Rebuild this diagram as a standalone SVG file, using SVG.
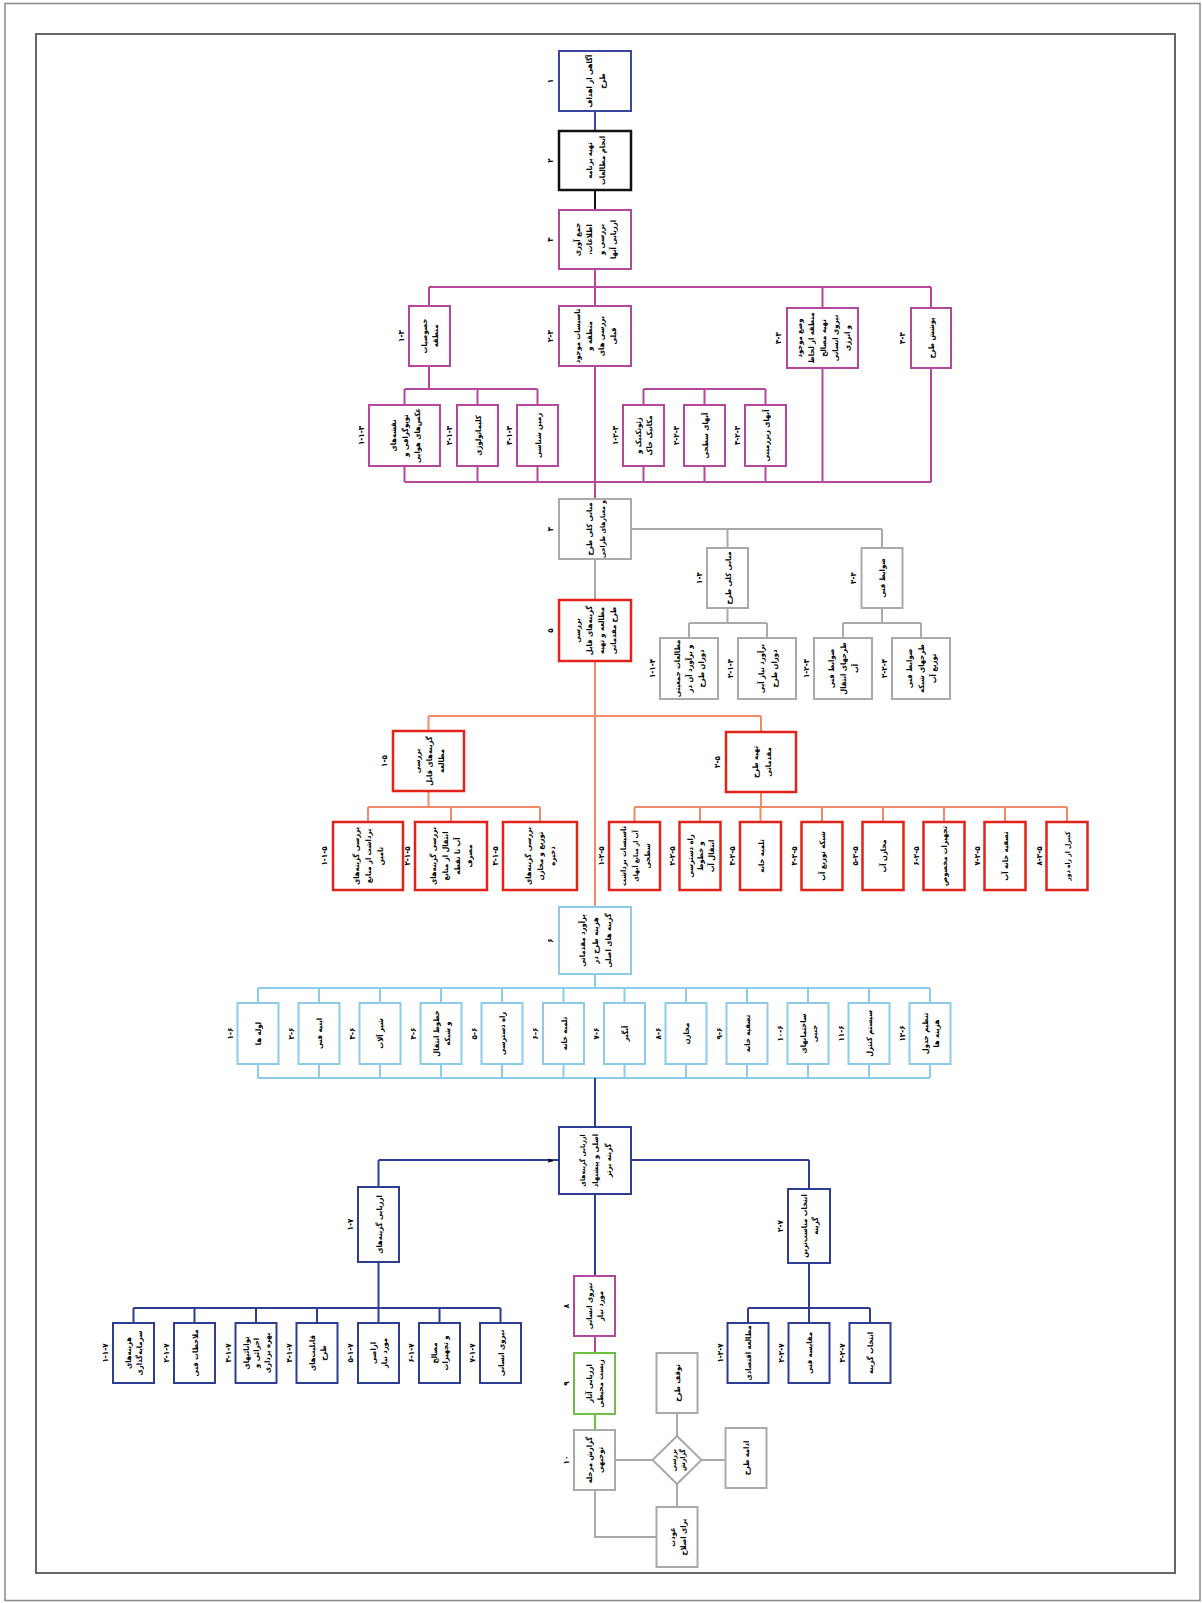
<svg xmlns="http://www.w3.org/2000/svg" width="1202" height="1603" viewBox="0 0 1202 1603">
<style>
.t{font-family:"DejaVu Sans Condensed","DejaVu Sans",sans-serif;font-size:7.6px;font-weight:bold;text-anchor:middle;direction:rtl;fill:#000}
.s{font-size:6.8px}
.n{font-family:"DejaVu Sans Condensed","DejaVu Sans",sans-serif;font-size:8px;font-weight:bold;text-anchor:middle;direction:ltr;fill:#000}
.b1{fill:#fff;stroke:#3b46a0;stroke-width:2}
.bk{fill:#fff;stroke:#111;stroke-width:2.5}
.pk{fill:#fff;stroke:#b5489c;stroke-width:2}
.gy{fill:#fff;stroke:#aaaaaa;stroke-width:2}
.rd{fill:#fff;stroke:#e2231a;stroke-width:2.5}
.lb{fill:#fff;stroke:#8ccbea;stroke-width:2}
.db{fill:#fff;stroke:#2e3d94;stroke-width:2}
.gn{fill:#fff;stroke:#6fbe44;stroke-width:2}
.c{fill:none;stroke-width:2}
</style>
<rect x="5" y="3.5" width="1195" height="1597" fill="none" stroke="#888" stroke-width="1.5"/>
<rect x="36" y="34" width="1139" height="1539" fill="none" stroke="#666" stroke-width="2"/>
<g id="connectors">
<path class="c" stroke="#3b46a0" d="M595 111V131"/>
<path class="c" stroke="#111" d="M595 190V210"/>
<path class="c" stroke="#b5489c" d="M595 269V306M429 287H931M429 287V306M822.5 287V308M931 287V308M429 366V389M404.5 389H537.5M404.5 389V405M477.5 389V405M537.5 389V405M643.5 389H765.5M643.5 389V405M704.5 389V405M765.5 389V405M404.5 466V482M477.5 466V482M537.5 466V482M643.5 466V482M704.5 466V482M765.5 466V482M822.5 368V482M931 368V482M595 366V499M404.5 482H931M595 1336V1353"/>
<path class="c" stroke="#aaaaaa" d="M595 559V600M630 529H882M727.5 529V548M882 529V548M727.5 608V623M689 623H767M689 623V638M767 623V638M882 608V623M843 623H921M843 623V638M921 623V638M615 1460H652.5M677 1413V1436M701.5 1460H725.5M677 1484V1507M595 1490V1537H656.5"/>
<path class="c" stroke="#f28a6a" stroke-width="1.5" d="M595 661V907M428.5 716H761M428.5 716V731M761 716V732M428.5 791V807M368 807H540M368 807V822M451 807V822M540 807V822M761 792V807M634.5 807H1067M634.5 807V822M700 807V822M760.5 807V822M822 807V822M883 807V822M944 807V822M1005 807V822M1067 807V822"/>
<path class="c" stroke="#8ccbea" d="M595 974V988M258 988H930M258 1078H930M258 988V1003M319 988V1003M380 988V1003M441 988V1003M502 988V1003M563.5 988V1003M624.5 988V1003M686 988V1003M747 988V1003M808 988V1003M869 988V1003M930 988V1003M258 1064V1078M319 1064V1078M380 1064V1078M441 1064V1078M502 1064V1078M563.5 1064V1078M624.5 1064V1078M686 1064V1078M747 1064V1078M808 1064V1078M869 1064V1078M930 1064V1078"/>
<path class="c" stroke="#2e3d94" d="M595 1078V1127M378.5 1160H809M378.5 1160V1187M809 1160V1189M378.5 1262V1308M133.5 1308H500.5M133.5 1308V1323M194.5 1308V1323M256 1308V1323M317 1308V1323M378.5 1308V1323M439.5 1308V1323M500.5 1308V1323M809 1263V1308M748 1308H870M748 1308V1323M809 1308V1323M870 1308V1323M595 1194V1276"/>
<path class="c" stroke="#6fbe44" d="M595 1414V1430"/>
</g>
<g id="n1"><rect class="b1" x="559" y="51" width="72" height="60"/><text class="t" transform="translate(595,81) rotate(-90)"><tspan x="0" y="-3.5">آگاهی از اهداف</tspan><tspan x="0" y="9.5">طرح</tspan></text><text class="n" transform="translate(550,81) rotate(-90)" y="3">۱</text></g>
<g id="n2"><rect class="bk" x="559" y="131" width="72" height="59"/><text class="t" transform="translate(595,160.5) rotate(-90)"><tspan x="0" y="-3.5">تهیه برنامه</tspan><tspan x="0" y="9.5">انجام مطالعات</tspan></text><text class="n" transform="translate(550,160.5) rotate(-90)" y="3">۲</text></g>
<g id="n3"><rect class="pk" x="559" y="210" width="72" height="59"/><text class="t" transform="translate(595,239.5) rotate(-90)"><tspan x="0" y="-15">جمع آوری</tspan><tspan x="0" y="-3">اطلاعات،</tspan><tspan x="0" y="9">بررسی و</tspan><tspan x="0" y="21">ارزیابی آنها</tspan></text><text class="n" transform="translate(550,239.5) rotate(-90)" y="3">۳</text></g>
<g id="n3-1"><rect class="pk" x="409" y="306" width="41" height="60"/><text class="t" transform="translate(429.5,336) rotate(-90)"><tspan x="0" y="-2.5">خصوصیات</tspan><tspan x="0" y="8.5">منطقه</tspan></text><text class="n" transform="translate(401,336) rotate(-90)" y="3">۱-۳</text></g>
<g id="n3-2"><rect class="pk" x="559" y="306" width="72" height="60"/><text class="t" transform="translate(595,336) rotate(-90)"><tspan x="0" y="-15">تاسیسات موجود</tspan><tspan x="0" y="-3">منطقه و</tspan><tspan x="0" y="9">بررسی های</tspan><tspan x="0" y="21">قبلی</tspan></text><text class="n" transform="translate(550,336) rotate(-90)" y="3">۲-۳</text></g>
<g id="n3-3"><rect class="pk" x="787" y="308" width="71" height="60"/><text class="t" transform="translate(822.5,338) rotate(-90)"><tspan x="0" y="-21">وضع موجود</tspan><tspan x="0" y="-9">منطقه از لحاظ</tspan><tspan x="0" y="3">تهیه مصالح</tspan><tspan x="0" y="15">نیروی انسانی</tspan><tspan x="0" y="27">و انرژی</tspan></text><text class="n" transform="translate(778,338) rotate(-90)" y="3">۳-۳</text></g>
<g id="n3-4"><rect class="pk" x="911" y="308" width="40" height="60"/><text class="t" transform="translate(931,338) rotate(-90)"><tspan x="0" y="3">پوشش طرح</tspan></text><text class="n" transform="translate(902,338) rotate(-90)" y="3">۴-۳</text></g>
<g id="n3-1-1"><rect class="pk" x="369" y="405" width="71" height="61"/><text class="t" transform="translate(404.5,435.5) rotate(-90)"><tspan x="0" y="-9">نقشه‌های</tspan><tspan x="0" y="3">توپوگرافی و</tspan><tspan x="0" y="15">عکس‌های هوایی</tspan></text><text class="n" transform="translate(361,435.5) rotate(-90)" y="3">۱-۱-۳</text></g>
<g id="n3-1-2"><rect class="pk" x="457" y="405" width="41" height="61"/><text class="t" transform="translate(477.5,435.5) rotate(-90)"><tspan x="0" y="3">کلیماتولوژی</tspan></text><text class="n" transform="translate(449,435.5) rotate(-90)" y="3">۲-۱-۳</text></g>
<g id="n3-1-3"><rect class="pk" x="517" y="405" width="41" height="61"/><text class="t" transform="translate(537.5,435.5) rotate(-90)"><tspan x="0" y="3">زمین شناسی</tspan></text><text class="n" transform="translate(509,435.5) rotate(-90)" y="3">۳-۱-۳</text></g>
<g id="n3-2-1"><rect class="pk" x="623" y="405" width="41" height="61"/><text class="t" transform="translate(643.5,435.5) rotate(-90)"><tspan x="0" y="-2.5">ژئوتکنیک و</tspan><tspan x="0" y="8.5">مکانیک خاک</tspan></text><text class="n" transform="translate(615,435.5) rotate(-90)" y="3">۱-۲-۳</text></g>
<g id="n3-2-2"><rect class="pk" x="684" y="405" width="41" height="61"/><text class="t" transform="translate(704.5,435.5) rotate(-90)"><tspan x="0" y="3">آبهای سطحی</tspan></text><text class="n" transform="translate(676,435.5) rotate(-90)" y="3">۲-۲-۳</text></g>
<g id="n3-2-3"><rect class="pk" x="745" y="405" width="41" height="61"/><text class="t" transform="translate(765.5,435.5) rotate(-90)"><tspan x="0" y="3">آبهای زیرزمینی</tspan></text><text class="n" transform="translate(737,435.5) rotate(-90)" y="3">۳-۲-۳</text></g>
<g id="n4"><rect class="gy" x="559" y="499" width="72" height="60"/><text class="t" transform="translate(595,529) rotate(-90)"><tspan x="0" y="-3.5">مبانی کلی طرح</tspan><tspan class="s" x="0" y="9.5">و معیارهای طراحی</tspan></text><text class="n" transform="translate(550,529) rotate(-90)" y="3">۴</text></g>
<g id="n4-1"><rect class="gy" x="707" y="548" width="41" height="60"/><text class="t" transform="translate(727.5,578) rotate(-90)"><tspan x="0" y="3">مبانی کلی طرح</tspan></text><text class="n" transform="translate(699,578) rotate(-90)" y="3">۱-۴</text></g>
<g id="n4-2"><rect class="gy" x="861.5" y="548" width="41" height="60"/><text class="t" transform="translate(882,578) rotate(-90)"><tspan x="0" y="3">ضوابط فنی</tspan></text><text class="n" transform="translate(853,578) rotate(-90)" y="3">۲-۴</text></g>
<g id="n4-1-1"><rect class="gy" x="660" y="638" width="58" height="61"/><text class="t" transform="translate(689,668.5) rotate(-90)"><tspan x="0" y="-9">مطالعات جمعیتی</tspan><tspan x="0" y="3">و برآورد آن در</tspan><tspan x="0" y="15">دوران طرح</tspan></text><text class="n" transform="translate(652,668.5) rotate(-90)" y="3">۱-۱-۴</text></g>
<g id="n4-1-2"><rect class="gy" x="738" y="638" width="58" height="61"/><text class="t" transform="translate(767,668.5) rotate(-90)"><tspan x="0" y="-3.5">برآورد نیاز آبی</tspan><tspan x="0" y="9.5">دوران طرح</tspan></text><text class="n" transform="translate(730,668.5) rotate(-90)" y="3">۲-۱-۴</text></g>
<g id="n4-2-1"><rect class="gy" x="814" y="638" width="58" height="61"/><text class="t" transform="translate(843,668.5) rotate(-90)"><tspan x="0" y="-9">ضوابط فنی</tspan><tspan x="0" y="3">طرحهای انتقال</tspan><tspan x="0" y="15">آب</tspan></text><text class="n" transform="translate(806,668.5) rotate(-90)" y="3">۱-۲-۴</text></g>
<g id="n4-2-2"><rect class="gy" x="892" y="638" width="58" height="61"/><text class="t" transform="translate(921,668.5) rotate(-90)"><tspan x="0" y="-9">ضوابط فنی</tspan><tspan x="0" y="3">طرحهای شبکه</tspan><tspan x="0" y="15">توزیع آب</tspan></text><text class="n" transform="translate(884,668.5) rotate(-90)" y="3">۲-۲-۴</text></g>
<g id="n5"><rect class="rd" x="559" y="600" width="72" height="61"/><text class="t" transform="translate(595,630.5) rotate(-90)"><tspan x="0" y="-15">بررسی</tspan><tspan x="0" y="-3">گزینه‌های قابل</tspan><tspan x="0" y="9">مطالعه و تهیه</tspan><tspan x="0" y="21">طرح مقدماتی</tspan></text><text class="n" transform="translate(550,630.5) rotate(-90)" y="3">۵</text></g>
<g id="n5-1"><rect class="rd" x="393" y="731" width="71" height="60"/><text class="t" transform="translate(428.5,761) rotate(-90)"><tspan x="0" y="-9">بررسی</tspan><tspan x="0" y="3">گزینه‌های قابل</tspan><tspan x="0" y="15">مطالعه</tspan></text><text class="n" transform="translate(384,761) rotate(-90)" y="3">۱-۵</text></g>
<g id="n5-2"><rect class="rd" x="726" y="732" width="70" height="60"/><text class="t" transform="translate(761,762) rotate(-90)"><tspan x="0" y="-3.5">تهیه طرح</tspan><tspan x="0" y="9.5">مقدماتی</tspan></text><text class="n" transform="translate(717,762) rotate(-90)" y="3">۲-۵</text></g>
<g id="n5-1-1"><rect class="rd" x="333" y="822" width="70" height="68"/><text class="t" transform="translate(368,856) rotate(-90)"><tspan x="0" y="-9">بررسی گزینه‌های</tspan><tspan x="0" y="3">برداشت از منابع</tspan><tspan x="0" y="15">تامین</tspan></text><text class="n" transform="translate(324,856) rotate(-90)" y="3">۱-۱-۵</text></g>
<g id="n5-1-2"><rect class="rd" x="415" y="822" width="72" height="68"/><text class="t" transform="translate(451,856) rotate(-90)"><tspan x="0" y="-15">بررسی گزینه‌های</tspan><tspan x="0" y="-3">انتقال از منابع</tspan><tspan x="0" y="9">آب تا نقطه</tspan><tspan x="0" y="21">مصرف</tspan></text><text class="n" transform="translate(407,856) rotate(-90)" y="3">۲-۱-۵</text></g>
<g id="n5-1-3"><rect class="rd" x="503" y="822" width="74" height="68"/><text class="t" transform="translate(540,856) rotate(-90)"><tspan x="0" y="-9">بررسی گزینه‌های</tspan><tspan x="0" y="3">توزیع و مخازن</tspan><tspan x="0" y="15">ذخیره</tspan></text><text class="n" transform="translate(495,856) rotate(-90)" y="3">۳-۱-۵</text></g>
<g id="n5-2-1"><rect class="rd" x="609" y="822" width="51" height="68"/><text class="t" transform="translate(634.5,856) rotate(-90)"><tspan x="0" y="-9">تاسیسات برداشت</tspan><tspan class="s" x="0" y="3">آب از منابع آبهای</tspan><tspan x="0" y="15">سطحی</tspan></text><text class="n" transform="translate(601,856) rotate(-90)" y="3">۱-۲-۵</text></g>
<g id="n5-2-2"><rect class="rd" x="679.5" y="822" width="41" height="68"/><text class="t" transform="translate(700,856) rotate(-90)"><tspan x="0" y="-7.5">راه دسترسی</tspan><tspan x="0" y="3">و خطوط</tspan><tspan x="0" y="13.5">انتقال آب</tspan></text><text class="n" transform="translate(671.5,856) rotate(-90)" y="3">۲-۲-۵</text></g>
<g id="n5-2-3"><rect class="rd" x="740" y="822" width="41" height="68"/><text class="t" transform="translate(760.5,856) rotate(-90)"><tspan x="0" y="3">تلمبه خانه</tspan></text><text class="n" transform="translate(732,856) rotate(-90)" y="3">۳-۲-۵</text></g>
<g id="n5-2-4"><rect class="rd" x="801.5" y="822" width="41" height="68"/><text class="t" transform="translate(822,856) rotate(-90)"><tspan x="0" y="3">شبکه توزیع آب</tspan></text><text class="n" transform="translate(793.5,856) rotate(-90)" y="3">۴-۲-۵</text></g>
<g id="n5-2-5"><rect class="rd" x="862.5" y="822" width="41" height="68"/><text class="t" transform="translate(883,856) rotate(-90)"><tspan x="0" y="3">مخازن آب</tspan></text><text class="n" transform="translate(854.5,856) rotate(-90)" y="3">۵-۲-۵</text></g>
<g id="n5-2-6"><rect class="rd" x="923.5" y="822" width="41" height="68"/><text class="t" transform="translate(944,856) rotate(-90)"><tspan x="0" y="3">تجهیزات مخصوص</tspan></text><text class="n" transform="translate(915.5,856) rotate(-90)" y="3">۶-۲-۵</text></g>
<g id="n5-2-7"><rect class="rd" x="984.5" y="822" width="41" height="68"/><text class="t" transform="translate(1005,856) rotate(-90)"><tspan x="0" y="3">تصفیه خانه آب</tspan></text><text class="n" transform="translate(976.5,856) rotate(-90)" y="3">۷-۲-۵</text></g>
<g id="n5-2-8"><rect class="rd" x="1046.5" y="822" width="41" height="68"/><text class="t" transform="translate(1067,856) rotate(-90)"><tspan class="s" x="0" y="3">کنترل از راه دور</tspan></text><text class="n" transform="translate(1038.5,856) rotate(-90)" y="3">۸-۲-۵</text></g>
<g id="n6"><rect class="lb" x="559" y="907" width="72" height="67"/><text class="t" transform="translate(595,940.5) rotate(-90)"><tspan x="0" y="-10">برآورد مقدماتی</tspan><tspan x="0" y="3">هزینه طرح در</tspan><tspan x="0" y="16">گزینه های اصلی</tspan></text><text class="n" transform="translate(550,940.5) rotate(-90)" y="3">۶</text></g>
<g id="n6-1"><rect class="lb" x="237.5" y="1003" width="41" height="61"/><text class="t" transform="translate(258,1033.5) rotate(-90)"><tspan x="0" y="3">لوله ها</tspan></text><text class="n" transform="translate(229.5,1033.5) rotate(-90)" y="3">۱-۶</text></g>
<g id="n6-2"><rect class="lb" x="298.5" y="1003" width="41" height="61"/><text class="t" transform="translate(319,1033.5) rotate(-90)"><tspan x="0" y="3">ابنیه فنی</tspan></text><text class="n" transform="translate(290.5,1033.5) rotate(-90)" y="3">۲-۶</text></g>
<g id="n6-3"><rect class="lb" x="359.5" y="1003" width="41" height="61"/><text class="t" transform="translate(380,1033.5) rotate(-90)"><tspan x="0" y="3">شیر آلات</tspan></text><text class="n" transform="translate(351.5,1033.5) rotate(-90)" y="3">۳-۶</text></g>
<g id="n6-4"><rect class="lb" x="420.5" y="1003" width="41" height="61"/><text class="t" transform="translate(441,1033.5) rotate(-90)"><tspan x="0" y="-2.5">خطوط انتقال</tspan><tspan x="0" y="8.5">و شبکه</tspan></text><text class="n" transform="translate(412.5,1033.5) rotate(-90)" y="3">۴-۶</text></g>
<g id="n6-5"><rect class="lb" x="481.5" y="1003" width="41" height="61"/><text class="t" transform="translate(502,1033.5) rotate(-90)"><tspan x="0" y="3">راه دسترسی</tspan></text><text class="n" transform="translate(473.5,1033.5) rotate(-90)" y="3">۵-۶</text></g>
<g id="n6-6"><rect class="lb" x="543" y="1003" width="41" height="61"/><text class="t" transform="translate(563.5,1033.5) rotate(-90)"><tspan x="0" y="3">تلمبه خانه</tspan></text><text class="n" transform="translate(535,1033.5) rotate(-90)" y="3">۶-۶</text></g>
<g id="n6-7"><rect class="lb" x="604" y="1003" width="41" height="61"/><text class="t" transform="translate(624.5,1033.5) rotate(-90)"><tspan x="0" y="3">آبگیر</tspan></text><text class="n" transform="translate(596,1033.5) rotate(-90)" y="3">۷-۶</text></g>
<g id="n6-8"><rect class="lb" x="665.5" y="1003" width="41" height="61"/><text class="t" transform="translate(686,1033.5) rotate(-90)"><tspan x="0" y="3">مخازن</tspan></text><text class="n" transform="translate(657.5,1033.5) rotate(-90)" y="3">۸-۶</text></g>
<g id="n6-9"><rect class="lb" x="726.5" y="1003" width="41" height="61"/><text class="t" transform="translate(747,1033.5) rotate(-90)"><tspan x="0" y="3">تصفیه خانه</tspan></text><text class="n" transform="translate(718.5,1033.5) rotate(-90)" y="3">۹-۶</text></g>
<g id="n6-10"><rect class="lb" x="787.5" y="1003" width="41" height="61"/><text class="t" transform="translate(808,1033.5) rotate(-90)"><tspan x="0" y="-2.5">ساختمانهای</tspan><tspan x="0" y="8.5">جنبی</tspan></text><text class="n" transform="translate(779.5,1033.5) rotate(-90)" y="3">۱۰-۶</text></g>
<g id="n6-11"><rect class="lb" x="848.5" y="1003" width="41" height="61"/><text class="t" transform="translate(869,1033.5) rotate(-90)"><tspan x="0" y="3">سیستم کنترل</tspan></text><text class="n" transform="translate(840.5,1033.5) rotate(-90)" y="3">۱۱-۶</text></g>
<g id="n6-12"><rect class="lb" x="909.5" y="1003" width="41" height="61"/><text class="t" transform="translate(930,1033.5) rotate(-90)"><tspan x="0" y="-2.5">تنظیم جدول</tspan><tspan x="0" y="8.5">هزینه ها</tspan></text><text class="n" transform="translate(901.5,1033.5) rotate(-90)" y="3">۱۲-۶</text></g>
<g id="n7"><rect class="db" x="559" y="1127" width="72" height="67"/><text class="t" transform="translate(595,1160.5) rotate(-90)"><tspan class="s" x="0" y="-10">ارزیابی گزینه‌های</tspan><tspan x="0" y="3">اصلی و پیشنهاد</tspan><tspan x="0" y="16">گزینه برتر</tspan></text><text class="n" transform="translate(550,1160.5) rotate(-90)" y="3">۷</text></g>
<g id="n7-1"><rect class="db" x="358" y="1187" width="41" height="75"/><text class="t" transform="translate(378.5,1224.5) rotate(-90)"><tspan x="0" y="3">ارزیابی گزینه‌های</tspan></text><text class="n" transform="translate(350,1224.5) rotate(-90)" y="3">۱-۷</text></g>
<g id="n7-2"><rect class="db" x="788" y="1189" width="42" height="74"/><text class="t" transform="translate(809,1226) rotate(-90)"><tspan x="0" y="-2.5">انتخاب مناسب‌ترین</tspan><tspan x="0" y="8.5">گزینه</tspan></text><text class="n" transform="translate(780,1226) rotate(-90)" y="3">۲-۷</text></g>
<g id="n7-1-1"><rect class="db" x="113" y="1323" width="41" height="60"/><text class="t" transform="translate(133.5,1353) rotate(-90)"><tspan x="0" y="-2.5">هزینه‌های</tspan><tspan x="0" y="8.5">سرمایه‌گذاری</tspan></text><text class="n" transform="translate(105,1353) rotate(-90)" y="3">۱-۱-۷</text></g>
<g id="n7-1-2"><rect class="db" x="174" y="1323" width="41" height="60"/><text class="t" transform="translate(194.5,1353) rotate(-90)"><tspan x="0" y="3">ملاحظات فنی</tspan></text><text class="n" transform="translate(166,1353) rotate(-90)" y="3">۲-۱-۷</text></g>
<g id="n7-1-3"><rect class="db" x="235.5" y="1323" width="41" height="60"/><text class="t" transform="translate(256,1353) rotate(-90)"><tspan x="0" y="-7.5">توانائیهای</tspan><tspan x="0" y="3">اجرائی و</tspan><tspan x="0" y="13.5">بهره برداری</tspan></text><text class="n" transform="translate(227.5,1353) rotate(-90)" y="3">۳-۱-۷</text></g>
<g id="n7-1-4"><rect class="db" x="296.5" y="1323" width="41" height="60"/><text class="t" transform="translate(317,1353) rotate(-90)"><tspan x="0" y="-2.5">قابلیت‌های</tspan><tspan x="0" y="8.5">طرح</tspan></text><text class="n" transform="translate(288.5,1353) rotate(-90)" y="3">۴-۱-۷</text></g>
<g id="n7-1-5"><rect class="db" x="358" y="1323" width="41" height="60"/><text class="t" transform="translate(378.5,1353) rotate(-90)"><tspan x="0" y="-2.5">اراضی</tspan><tspan x="0" y="8.5">مورد نیاز</tspan></text><text class="n" transform="translate(350,1353) rotate(-90)" y="3">۵-۱-۷</text></g>
<g id="n7-1-6"><rect class="db" x="419" y="1323" width="41" height="60"/><text class="t" transform="translate(439.5,1353) rotate(-90)"><tspan x="0" y="-2.5">مصالح</tspan><tspan x="0" y="8.5">و تجهیزات</tspan></text><text class="n" transform="translate(411,1353) rotate(-90)" y="3">۶-۱-۷</text></g>
<g id="n7-1-7"><rect class="db" x="480" y="1323" width="41" height="60"/><text class="t" transform="translate(500.5,1353) rotate(-90)"><tspan x="0" y="3">نیروی انسانی</tspan></text><text class="n" transform="translate(472,1353) rotate(-90)" y="3">۷-۱-۷</text></g>
<g id="n7-2-1"><rect class="db" x="727.5" y="1323" width="41" height="60"/><text class="t" transform="translate(748,1353) rotate(-90)"><tspan x="0" y="3">مطالعه اقتصادی</tspan></text><text class="n" transform="translate(719.5,1353) rotate(-90)" y="3">۱-۲-۷</text></g>
<g id="n7-2-2"><rect class="db" x="788.5" y="1323" width="41" height="60"/><text class="t" transform="translate(809,1353) rotate(-90)"><tspan x="0" y="3">مقایسه فنی</tspan></text><text class="n" transform="translate(780.5,1353) rotate(-90)" y="3">۲-۲-۷</text></g>
<g id="n7-2-3"><rect class="db" x="849.5" y="1323" width="41" height="60"/><text class="t" transform="translate(870,1353) rotate(-90)"><tspan x="0" y="3">انتخاب گزینه</tspan></text><text class="n" transform="translate(841.5,1353) rotate(-90)" y="3">۳-۲-۷</text></g>
<g id="n8"><rect class="pk" x="574" y="1276" width="41" height="60"/><text class="t" transform="translate(594.5,1306) rotate(-90)"><tspan x="0" y="-2.5">نیروی انسانی</tspan><tspan x="0" y="8.5">مورد نیاز</tspan></text><text class="n" transform="translate(566,1306) rotate(-90)" y="3">۸</text></g>
<g id="n9"><rect class="gn" x="574" y="1353" width="41" height="61"/><text class="t" transform="translate(594.5,1383.5) rotate(-90)"><tspan x="0" y="-2.5">ارزیابی آثار</tspan><tspan x="0" y="8.5">زیست محیطی</tspan></text><text class="n" transform="translate(566,1383.5) rotate(-90)" y="3">۹</text></g>
<g id="n10"><rect class="gy" x="574" y="1430" width="41" height="60"/><text class="t" transform="translate(594.5,1460) rotate(-90)"><tspan x="0" y="-2.5">گزارش مرحله</tspan><tspan x="0" y="8.5">توجیهی</tspan></text><text class="n" transform="translate(566,1460) rotate(-90)" y="3">۱۰</text></g>
<g id="decision"><polygon class="gy" points="677,1436 701.5,1460 677,1484 652.5,1460"/><text class="t" style="font-size:7px" transform="translate(677,1460) rotate(-90)"><tspan x="0" y="-1.5">بررسی</tspan><tspan x="0" y="7.5">گزارش</tspan></text></g>
<g id="stop"><rect class="gy" x="656.5" y="1353" width="41" height="60"/><text class="t" transform="translate(677,1383) rotate(-90)"><tspan x="0" y="3">توقف طرح</tspan></text></g>
<g id="continue"><rect class="gy" x="725.5" y="1428" width="41" height="60"/><text class="t" transform="translate(746,1458) rotate(-90)"><tspan x="0" y="3">ادامه طرح</tspan></text></g>
<g id="return"><rect class="gy" x="656.5" y="1507" width="41" height="60"/><text class="t" transform="translate(677,1537) rotate(-90)"><tspan x="0" y="-2.5">عودت</tspan><tspan x="0" y="8.5">برای اصلاح</tspan></text></g>
</svg>
